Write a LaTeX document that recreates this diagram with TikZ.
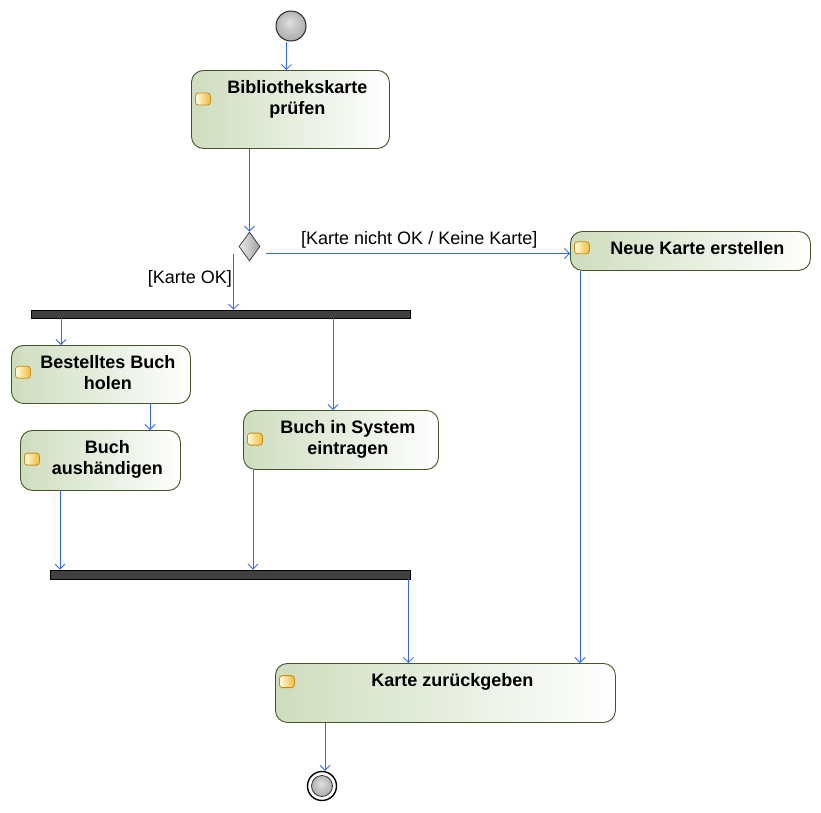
\documentclass[tikz,border=0pt]{standalone}
\usepackage{fontspec}
\setmainfont{Liberation Sans}
\usetikzlibrary{shapes.geometric,arrows.meta,calc}

\definecolor{flowblue}{RGB}{51,102,255}
\definecolor{actborder}{RGB}{66,86,40}
\definecolor{actleft}{RGB}{206,221,190}
\definecolor{iconborder}{RGB}{200,140,20}
\definecolor{iconleft}{RGB}{255,250,225}
\definecolor{iconright}{RGB}{240,190,60}
\definecolor{barfill}{RGB}{64,64,64}

% soft grey sphere for initial and final nodes
\pgfdeclareradialshading{orb}{\pgfpoint{-3bp}{6bp}}{%
  color(0bp)=(gray!25); color(20bp)=(gray!55); color(40bp)=(gray!80);
  color(50bp)=(gray!95)}

% action: rounded box, bold caption, small state icon left of the caption
\newcommand\actbox[6]{%
  \node[act, minimum width=#4, minimum height=#5, anchor=north west] (#1) at (#2,#3) {};
  \node[acttext, anchor=north] (#1t) at ($(#1.north)+(7,10)$) {#6};
  \node[icon, anchor=west] (#1i) at ($(#1.west |- #1t.center)+(4,0)$) {};
}

\begin{document}
\begin{tikzpicture}[x=1pt,y=-1pt,
  act/.style={draw=actborder, line width=0.9pt, rounded corners=12pt,
    left color=actleft, right color=white, inner sep=0pt},
  acttext/.style={inner sep=0pt, align=center,
    font=\fontsize{18}{21}\selectfont\bfseries},
  icon/.style={draw=iconborder, line width=0.8pt, rounded corners=3pt,
    left color=iconleft, right color=iconright,
    minimum width=15pt, minimum height=12pt, inner sep=0pt},
  guard/.style={inner sep=0pt, font=\fontsize{18}{21}\selectfont},
  flow/.style={draw=flowblue, line width=0.8pt,
    -{Straight Barb[length=5pt,width=10pt]}},
  bar/.style={draw=black, line width=0.8pt, fill=barfill, inner sep=0pt},
  startnode/.style={circle, draw=black!85, line width=1pt, shading=orb,
    minimum size=30pt, inner sep=0pt},
  stopring/.style={circle, draw=black, line width=1.4pt, fill=white,
    minimum size=29pt, inner sep=0pt},
  stopball/.style={circle, draw=black!80, line width=0.8pt, shading=orb,
    minimum size=21pt, inner sep=0pt},
  decision/.style={diamond, draw=black!75, line width=0.8pt,
    left color=gray!15, right color=gray!75, inner sep=0pt,
    minimum width=21pt, minimum height=29pt}
]
\path[fill=white, use as bounding box] (0,0) rectangle (821,812);

% initial and final nodes
\node[startnode] (start) at (291,26) {};
\node[stopring] (stop) at (322,786) {};
\node[stopball] (stopin) at (stop.center) {};

% actions
\actbox{chk}{191}{70}{198}{78}{Bibliothekskarte\\prüfen}
\actbox{neu}{570}{231}{240}{39}{Neue Karte erstellen}
\actbox{hol}{11}{345}{179}{58}{Bestelltes Buch\\holen}
\actbox{aus}{20}{430}{160}{60}{Buch\\aushändigen}
\actbox{sys}{243}{410}{195}{59}{Buch in System\\eintragen}
\actbox{ret}{275}{663}{340}{59}{Karte zurückgeben}

% decision, fork and join
\node[decision] (dec) at (249.5,246.5) {};
\node[bar, minimum width=379pt, minimum height=8pt] (fork) at (220.5,314) {};
\node[bar, minimum width=360pt, minimum height=9pt] (join) at (230,574.5) {};

% guards
\node[guard, anchor=base east] (gok) at (232,283) {[Karte OK]};
\node[guard, anchor=base west] (gnok) at (301,244) {[Karte nicht OK / Keine Karte]};

% control flow
\coordinate (c1) at ($(chk.north)+(-4,0)$);
\draw[flow] (start.south -| c1) -- (c1);
\draw[flow] (chk.south -| dec.north) -- (dec.north);
\coordinate (c2) at ($(dec.west)+(-5,7)$);
\draw[flow] (c2) -- (c2 |- fork.north);
\coordinate (c3) at ($(dec.east)+(6,7)$);
\draw[flow] (c3) -- (c3 -| neu.west);
\coordinate (c4) at ($(hol.north west)+(50,0)$);
\draw[flow] (fork.south -| c4) -- (c4);
\coordinate (c5) at ($(sys.north west)+(90,0)$);
\draw[flow] (fork.south -| c5) -- (c5);
\coordinate (c6) at ($(aus.north west)+(130,0)$);
\draw[flow] (hol.south -| c6) -- (c6);
\coordinate (c7) at ($(aus.south west)+(40,0)$);
\draw[flow] (c7) -- (c7 |- join.north);
\coordinate (c8) at ($(sys.south west)+(10,0)$);
\draw[flow] (c8) -- (c8 |- join.north);
\coordinate (c9) at ($(join.south east)+(-2,0)$);
\draw[flow] (c9) -- (c9 |- ret.north);
\coordinate (c10) at ($(neu.south west)+(10,0)$);
\draw[flow] (c10) -- (c10 |- ret.north);
\coordinate (c11) at ($(ret.south west)+(50,0)$);
\draw[flow] (c11) -- (c11 |- stop.north);
\end{tikzpicture}
\end{document}
